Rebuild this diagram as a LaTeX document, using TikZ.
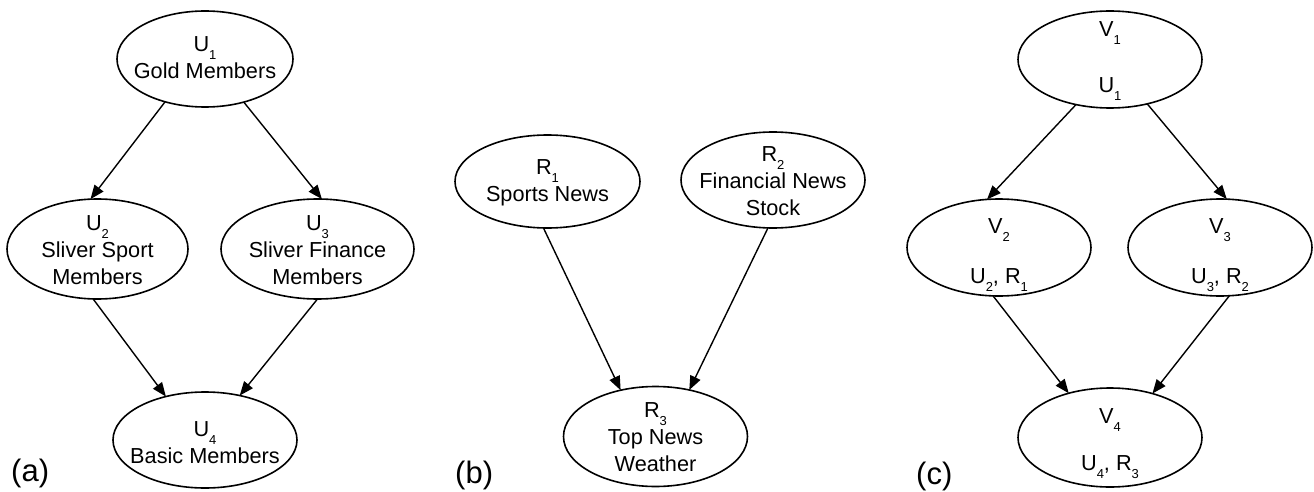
\documentclass[tikz,border=0pt]{standalone}
\usepackage{fontspec}
\setmainfont{Liberation Sans}
\usetikzlibrary{arrows.meta,shapes.geometric}
% lowered small index after a letter, e.g. U_1
\newcommand{\idx}[1]{\raisebox{-8pt}{\fontsize{13}{13}\selectfont #1}}
% centred stack of lines whose base is the first line
\newcommand{\lines}[1]{\begin{tabular}[t]{@{}c@{}}#1\end{tabular}}

\begin{document}
\begin{tikzpicture}[x=1pt,y=-1pt,
  blob/.style={ellipse, draw, line width=1.6pt, inner sep=0pt, outer sep=0pt},
  txt/.style={inner sep=0pt, anchor=base, font=\fontsize{21.7}{27}\selectfont},
  tag/.style={inner sep=0pt, anchor=base west, font=\fontsize{31}{31}\selectfont},
  link/.style={line width=1.4pt, -{Triangle[length=14pt,width=11pt]}}]
\useasboundingbox (0,0) rectangle (1314,492);

% (a) user groups
\node[blob, minimum width=176pt, minimum height=96pt] (u1) at (205,59) {};
\node[txt] at (205,52) {\lines{U\idx{1}\\Gold Members}};
\node[blob, minimum width=181pt, minimum height=100pt] (u2) at (97.5,249) {};
\node[txt] at (97.5,230) {\lines{U\idx{2}\\Sliver Sport\\Members}};
\node[blob, minimum width=193pt, minimum height=100pt] (u3) at (317.5,249) {};
\node[txt] at (317.5,230) {\lines{U\idx{3}\\Sliver Finance\\Members}};
\node[blob, minimum width=184pt, minimum height=96pt] (u4) at (205,440) {};
\node[txt] at (205,436) {\lines{U\idx{4}\\Basic Members}};
\node[tag] (la) at (11,481) {(a)};

\draw[link] (u1.227) -- (u2.98);
\draw[link] (u1.312) -- (u3.85);
\draw[link] (u2.265) -- (u4.132);
\draw[link] (u3.270) -- (u4.52);

% (b) resources
\node[blob, minimum width=185pt, minimum height=93pt] (r1) at (547.5,181.5) {};
\node[txt] at (547.5,174) {\lines{R\idx{1}\\Sports News}};
\node[blob, minimum width=184pt, minimum height=96pt] (r2) at (773,180) {};
\node[txt] at (773,161) {\lines{R\idx{2}\\Financial News\\Stock}};
\node[blob, minimum width=184pt, minimum height=100pt] (r3) at (655.5,436.5) {};
\node[txt] at (655.5,417) {\lines{R\idx{3}\\Top News\\Weather}};
\node[tag] (lb) at (455,483) {(b)};

\draw[link] (r1.265) -- (r3.127);
\draw[link] (r2.264) -- (r3.54);

% (c) views
\node[blob, minimum width=184pt, minimum height=97pt] (v1) at (1110,59.5) {};
\node[txt] at (1110,37) {V\idx{1}};
\node[txt] at (1110,93) {U\idx{1}};
\node[blob, minimum width=184pt, minimum height=97pt] (v2) at (999,247.5) {};
\node[txt] at (999,233) {V\idx{2}};
\node[txt] at (999,283) {U\idx{2}, R\idx{1}};
\node[blob, minimum width=184pt, minimum height=97pt] (v3) at (1220,247.5) {};
\node[txt] at (1220,233) {V\idx{3}};
\node[txt] at (1220,283) {U\idx{3}, R\idx{2}};
\node[blob, minimum width=184pt, minimum height=99pt] (v4) at (1110,437.5) {};
\node[txt] at (1110,423) {V\idx{4}};
\node[txt] at (1110,470) {U\idx{4}, R\idx{3}};
\node[tag] (lc) at (916,484) {(c)};

\draw[link] (v1.233) -- (v2.104);
\draw[link] (v1.310) -- (v3.82);
\draw[link] (v2.263) -- (v4.133);
\draw[link] (v3.281) -- (v4.46);
\end{tikzpicture}
\end{document}
